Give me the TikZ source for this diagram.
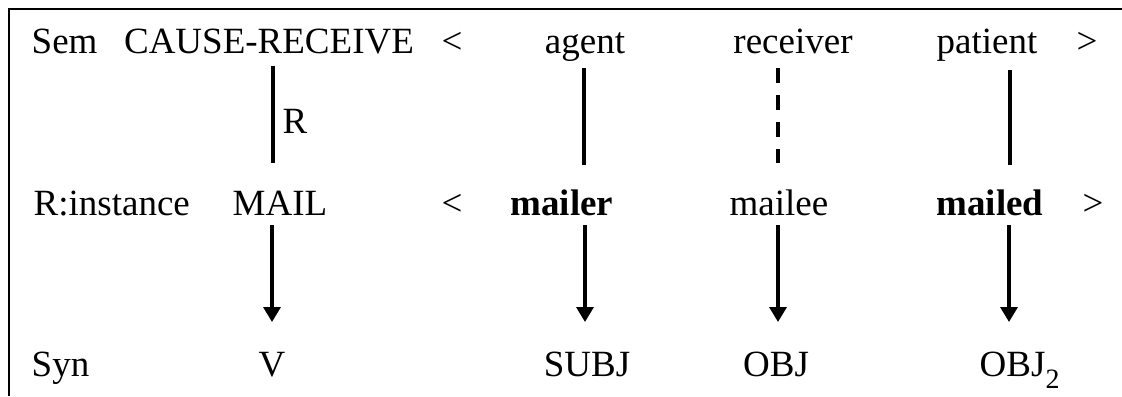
\documentclass[tikz,border=0pt]{standalone}
\usepackage{fontspec}
\setmainfont{Liberation Serif}
\usetikzlibrary{arrows.meta}

\begin{document}
\begin{tikzpicture}[x=0.5pt,y=-0.5pt,line width=1.7pt,
  font=\fontsize{18.5}{22}\selectfont,
  lbl/.style={inner sep=0pt,anchor=base},
  lbll/.style={inner sep=0pt,anchor=base west},
  link/.style={line width=1.7pt},
  map/.style={line width=1.7pt,-{Triangle[width=8.5pt,length=7.5pt]}}]
  \useasboundingbox (0,0) rectangle (1122,396);

  % 外框
  \draw[line width=1pt] (9,396) -- (9,9) -- (1122,9);

  % 第一行
  \node[lbll] (sem) at (30,53) {Sem};
  \node[lbl] (cause) at (269,53) {CAUSE-RECEIVE};
  \node[lbl] (lt1) at (452,53) {<};
  \node[lbl] (agent) at (585,53) {agent};
  \node[lbl] (recv) at (793,53) {receiver};
  \node[lbl] (pat) at (987,53) {patient};
  \node[lbl] (gt1) at (1087,53) {>};

  % 第二行
  \node[lbll] (inst) at (32,215) {R:instance};
  \node[lbl] (mail) at (280,215) {MAIL};
  \node[lbl] (lt2) at (452,215) {<};
  \node[lbl] (mailer) at (562,215) {\textbf{mailer}};
  \node[lbl] (mailee) at (779,215) {mailee};
  \node[lbl] (mailed) at (990,215) {\textbf{mailed}};
  \node[lbl] (gt2) at (1093,215) {>};

  % 第三行
  \node[lbll] (syn) at (30,376) {Syn};
  \node[lbl] (v) at (272,376) {V};
  \node[lbl] (subj) at (587,376) {SUBJ};
  \node[lbl] (obj) at (776,376) {OBJ};
  \node[lbll] (obj2) at (978,376) {OBJ\raisebox{-6pt}{\fontsize{14}{16}\selectfont 2}};

  % 连线端点
  \coordinate (r1) at (273,66);
  \coordinate (r2) at (273,163);
  \coordinate (a1) at (584,68);
  \coordinate (a2) at (584,165);
  \coordinate (c1) at (778,68);
  \coordinate (c2) at (778,163);
  \coordinate (p1) at (1010,70);
  \coordinate (p2) at (1010,165);

  \coordinate (m1) at (272,225);
  \coordinate (m2) at (272,322);
  \coordinate (s1) at (585,225);
  \coordinate (s2) at (585,322);
  \coordinate (o1) at (778,225);
  \coordinate (o2) at (778,322);
  \coordinate (d1) at (1009,225);
  \coordinate (d2) at (1009,322);

  % 上层连线
  \draw[link] (r1) -- (r2);
  \draw[link] (a1) -- (a2);
  \draw[link,dash pattern=on 7.5pt off 6pt] (c1) -- (c2);
  \draw[link] (p1) -- (p2);
  \node[lbll] (rlab) at (281,133) {R};

  % 下层箭头
  \draw[map] (m1) -- (m2);
  \draw[map] (s1) -- (s2);
  \draw[map] (o1) -- (o2);
  \draw[map] (d1) -- (d2);
\end{tikzpicture}
\end{document}
